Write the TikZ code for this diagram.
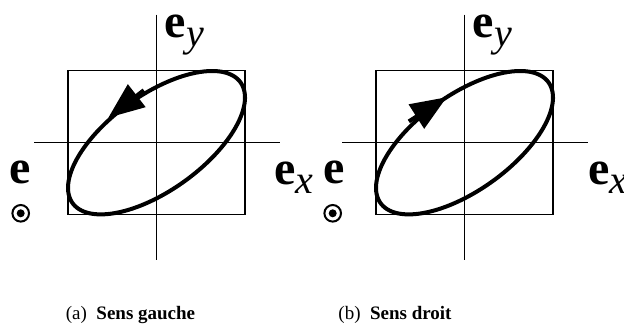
\documentclass[tikz,border=0pt]{standalone}
\usepackage{fontspec}
\setmainfont{Liberation Serif}
\usetikzlibrary{arrows.meta}

\begin{document}
\begin{tikzpicture}[x=1pt, y=-1pt,
  trait/.style={line width=1.3pt},
  courbe/.style={line width=4pt},
  fleche/.style={line width=4pt, -{Triangle[length=36pt,width=28pt]}},
  lettre/.style={inner sep=0pt, font=\fontsize{48}{48}\selectfont\bfseries},
  legende/.style={inner sep=0pt, font=\fontsize{19}{19}\selectfont}]
  \useasboundingbox (0,0) rectangle (624,329);

  % (a) sens gauche
  \begin{scope}[shift={(156.5,142.7)}]
    \coordinate (ha) at (0,-128);
    \coordinate (ba) at (0,117);
    \coordinate (ga) at (-122.5,0);
    \coordinate (da) at (123.5,0);
    \coordinate (qa) at (-12.7,-52.5);
    \coordinate (pa) at (-48.2,-25);
    \draw[trait] (ha) -- (ba);
    \draw[trait] (ga) -- (da);
    \draw[trait] (-88.5,-72) rectangle (88.5,71.5);
    \draw[courbe] plot[domain=0:360, samples=120, smooth cycle] ({88.5*cos(\x)}, {-71.7*cos(\x-51)});
    \draw[fleche] (qa) -- (pa);
    \node[lettre, anchor=base west] (eya) at (8,-105) {e\raisebox{-9pt}{\mdseries\itshape\fontsize{40}{40}\selectfont y}};
    \node[lettre, anchor=base west] (exa) at (117.5,42) {e\raisebox{-9pt}{\mdseries\itshape\fontsize{40}{40}\selectfont x}};
    \node[lettre, anchor=base west] (ea) at (-147,41) {e};
    \draw[line width=2pt] (-135.8,70.6) circle (8.3);
    \fill (-135.8,70.6) circle (4);
  \end{scope}

  % (b) sens droit
  \begin{scope}[shift={(464.5,142.7)}]
    \coordinate (hb) at (0,-128);
    \coordinate (bb) at (0,117);
    \coordinate (gb) at (-122.5,0);
    \coordinate (db) at (123.5,0);
    \coordinate (qb) at (-55.7,-21.3);
    \coordinate (pb) at (-17.8,-45.5);
    \draw[trait] (hb) -- (bb);
    \draw[trait] (gb) -- (db);
    \draw[trait] (-88.5,-72) rectangle (88.5,71.5);
    \draw[courbe] plot[domain=0:360, samples=120, smooth cycle] ({88.5*cos(\x)}, {-71.7*cos(\x-51)});
    \draw[fleche] (qb) -- (pb);
    \node[lettre, anchor=base west] (eyb) at (8,-105) {e\raisebox{-9pt}{\mdseries\itshape\fontsize{40}{40}\selectfont y}};
    \node[lettre, anchor=base west] (exb) at (123.5,42) {e\raisebox{-9pt}{\mdseries\itshape\fontsize{40}{40}\selectfont x}};
    \node[lettre, anchor=base west] (eb) at (-141.5,41) {e};
    \draw[line width=2pt] (-131.8,70.6) circle (8.3);
    \fill (-131.8,70.6) circle (4);
  \end{scope}

  \node[legende] (la) at (130.5,315) {(a)\enspace\textbf{Sens gauche}};
  \node[legende] (lb) at (395,315) {(b)\enspace\textbf{Sens droit}};
\end{tikzpicture}
\end{document}
